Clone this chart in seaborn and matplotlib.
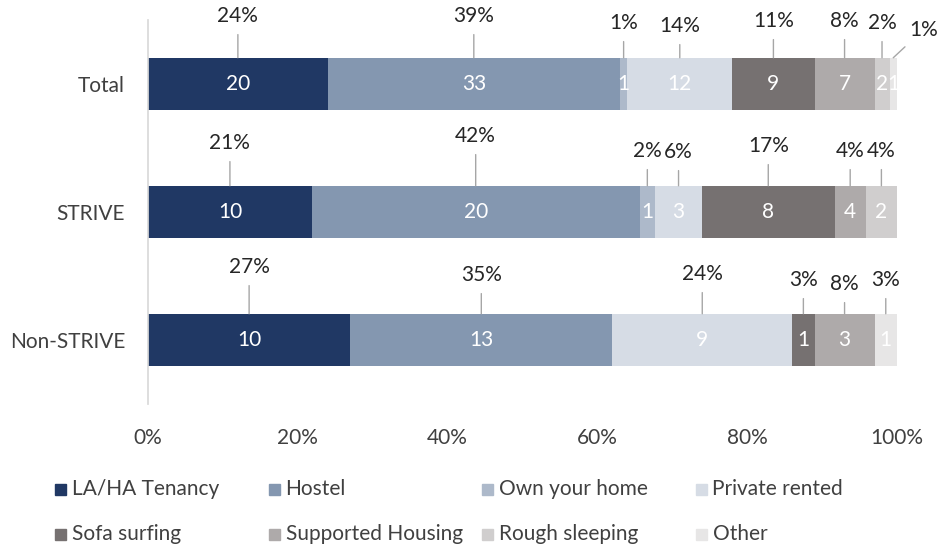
import numpy as np
import pandas as pd
import seaborn as sns
import matplotlib.pyplot as plt
from matplotlib.patches import Rectangle

# data
rows = ['Total', 'STRIVE', 'Non-STRIVE']
categories = ['LA/HA Tenancy', 'Hostel', 'Own your home', 'Private rented',
              'Sofa surfing', 'Supported Housing', 'Rough sleeping', 'Other']
pct_total = [24, 39, 1, 14, 11, 8, 2, 1]
pct_strive = [21, 42, 2, 6, 17, 4, 4, 0]
pct_non = [27, 35, 0, 24, 3, 8, 0, 3]
n_total = [20, 33, 1, 12, 9, 7, 2, 1]
n_strive = [10, 20, 1, 3, 8, 4, 2, 0]
n_non = [10, 13, 0, 9, 1, 3, 0, 1]

colors = ['#203864', '#8497b0', '#adb9ca', '#d6dce5',
          '#767171', '#aeaaaa', '#d0cece', '#e7e6e6']

# where the % labels sit above the bar top (pixels), one list per row
lab_total = [(0, 42), (0, 42), (0, 35), (0, 32), (0, 37), (0, 37), (0, 35), (30, 28)]
lab_strive = [(0, 43), (0, 50), (0, 35), (0, 34), (0, 40), (0, 35), (0, 35), (0, 35)]
lab_non = [(0, 47), (0, 39), (0, 35), (0, 40), (0, 34), (0, 30), (0, 34), (0, 34)]

pct = np.array([pct_total, pct_strive, pct_non], dtype=float)
counts = [n_total, n_strive, n_non]
label_pos = [lab_total, lab_strive, lab_non]
share = pct / pct.sum(axis=1, keepdims=True) * 100
cum = share.cumsum(axis=1)

sns.set_theme(style='white')
plt.rcParams['font.family'] = ['Lato', 'DejaVu Sans']

fig = plt.figure(figsize=(9.41, 5.5), dpi=100)
ax = fig.add_axes([148 / 941, 1 - 404 / 550, 749 / 941, 384 / 550])

# stacked bars: draw cumulative widths, last category first
for j in range(len(categories) - 1, -1, -1):
    df = pd.DataFrame({'row': rows, 'val': cum[:, j]})
    sns.barplot(data=df, x='val', y='row', color=colors[j], orient='h',
                width=0.41, linewidth=0, saturation=1, ax=ax)

bar_h = 0.41
for i, r in enumerate(rows):
    for j in range(len(categories)):
        w = share[i, j]
        if pct[i, j] == 0:
            continue
        cx = cum[i, j] - w / 2
        ax.text(cx, i, str(counts[i][j]), ha='center', va='center',
                color='white', fontsize=15)
        dx, dy = label_pos[i][j]
        ax.annotate(f'{int(pct[i, j])}%', xy=(cx, i - bar_h / 2),
                    xytext=(dx, dy), textcoords='offset pixels',
                    ha='center', va='center', fontsize=15, color='#262626',
                    arrowprops=dict(arrowstyle='-', color='#a6a6a6', lw=1,
                                    shrinkA=4, shrinkB=0))

ax.set_xlim(0, 100)
ax.set_xticks([0, 20, 40, 60, 80, 100])
ax.set_xticklabels(['0%', '20%', '40%', '60%', '80%', '100%'])
ax.set_xlabel('')
ax.set_ylabel('')
ax.tick_params(axis='x', length=0, pad=17, labelsize=15, labelcolor='#404040')
ax.tick_params(axis='y', length=0, pad=16.5, labelsize=15, labelcolor='#404040')
for s in ['top', 'right', 'bottom']:
    ax.spines[s].set_visible(False)
ax.spines['left'].set_color('#d9d9d9')
ax.grid(False)

# legend, fixed column grid like the original
for k, name in enumerate(categories):
    col, row = k % 4, k // 4
    x0 = 55 + col * 213.5
    y0 = 489 + row * 45
    fig.patches.append(Rectangle((x0 / 941, 1 - (y0 + 5.5) / 550), 11 / 941, 11 / 550,
                                 transform=fig.transFigure, color=colors[k]))
    fig.text((x0 + 17) / 941, 1 - y0 / 550, name, ha='left', va='center',
             fontsize=15, color='#404040')

fig.savefig('out.png', dpi=100)
